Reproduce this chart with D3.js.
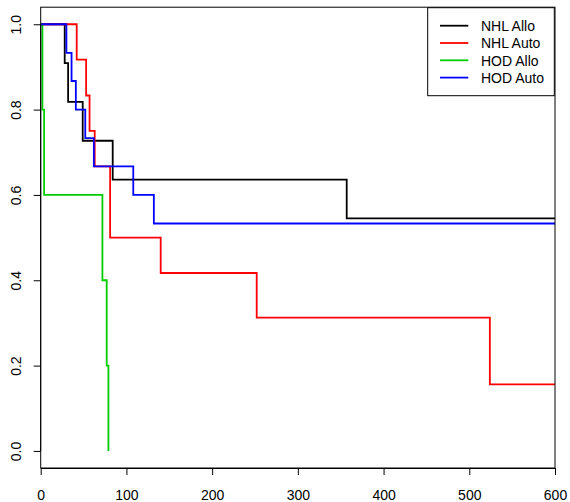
<!DOCTYPE html>
<html>
<head>
<meta charset="utf-8">
<script src="https://cdn.jsdelivr.net/npm/d3@7"></script>
<style>
  body { margin: 0; background: #fff; }
  svg { display: block; font-family: "Liberation Sans", Arial, sans-serif; }
</style>
</head>
<body>
<svg id="chart"></svg>
<script>
// Kaplan-Meier step curves: event times and survival after each step
const groups = ["NHL Allo", "NHL Auto", "HOD Allo", "HOD Auto"];
const colors = ["#000000", "#FF0000", "#00CD00", "#0000FF"];

const nhlAlloTimes = [0, 28, 32, 49, 84, 357, 600];
const nhlAlloSurv  = [1, 0.909, 0.818, 0.727, 0.636, 0.545, 0.545];

const nhlAutoTimes = [0, 42, 53, 57, 63, 81, 140, 252, 524, 600];
const nhlAutoSurv  = [1, 0.917, 0.833, 0.75, 0.667, 0.5, 0.417, 0.3125, 0.156, 0.156];

const hodAlloTimes = [0, 2, 4, 72, 77, 79];
const hodAlloSurv  = [1, 0.8, 0.6, 0.4, 0.2, 0];

const hodAutoTimes = [0, 30, 36, 41, 52, 62, 108, 132, 600];
const hodAutoSurv  = [1, 0.933, 0.867, 0.8, 0.733, 0.667, 0.6, 0.533, 0.533];

const xTicks = [0, 100, 200, 300, 400, 500, 600];
const yTicks = [0, 0.2, 0.4, 0.6, 0.8, 1.0];

function drawChart() {
    const width = 570;
    const height = 502;
    const margin = { top: 7.2, right: 15, bottom: 34, left: 40.7 };

    const svg = d3.select('#chart')
        .attr('width', width)
        .attr('height', height);

    const x = d3.scaleLinear()
        .domain([0, 600])
        .range([margin.left, width - margin.right]);

    // R's default 4% padding on the y range
    const y = d3.scaleLinear()
        .domain([-0.04, 1.04])
        .range([height - margin.bottom, margin.top]);

    svg.append('clipPath')
        .attr('id', 'plot-clip')
        .append('rect')
        .attr('x', x(0))
        .attr('y', y(1.04))
        .attr('width', x(600) - x(0))
        .attr('height', y(-0.04) - y(1.04));

    const series = [
        { times: nhlAlloTimes, surv: nhlAlloSurv },
        { times: nhlAutoTimes, surv: nhlAutoSurv },
        { times: hodAlloTimes, surv: hodAlloSurv },
        { times: hodAutoTimes, surv: hodAutoSurv }
    ];

    const line = d3.line()
        .x((d) => x(d[0]))
        .y((d) => y(d[1]))
        .curve(d3.curveStepAfter);

    svg.append('g')
        .attr('clip-path', 'url(#plot-clip)')
        .selectAll('path')
        .data(series)
        .enter()
        .append('path')
        .attr('d', (s) => line(s.times.map((t, i) => [t, s.surv[i]])))
        .attr('fill', 'none')
        .attr('stroke', (s, i) => colors[i])
        .attr('stroke-width', 1.8);

    // axes
    const xAxis = svg.append('g')
        .attr('transform', `translate(0, ${y(-0.04)})`)
        .call(d3.axisBottom(x).tickValues(xTicks).tickSize(7).tickSizeOuter(0));
    xAxis.selectAll('text')
        .attr('y', 31.5)
        .attr('dy', 0)
        .style('font-size', '14px')
        .style('fill', '#000');

    const yAxis = svg.append('g')
        .attr('transform', `translate(${x(0)}, 0)`)
        .call(d3.axisLeft(y).tickValues(yTicks).tickFormat(d3.format('.1f')).tickSize(7).tickSizeOuter(0));
    yAxis.select('.domain')
        .attr('d', `M0,${y(0)}V${y(1)}`);
    yAxis.selectAll('text')
        .attr('transform', 'rotate(-90)')
        .attr('x', 0)
        .attr('y', -19.7)
        .attr('dy', 0)
        .attr('text-anchor', 'middle')
        .style('font-size', '14px')
        .style('fill', '#000');

    svg.selectAll('.tick line').attr('stroke', '#000');

    // plot box
    svg.append('rect')
        .attr('x', x(0))
        .attr('y', y(1.04))
        .attr('width', x(600) - x(0))
        .attr('height', y(-0.04) - y(1.04))
        .attr('fill', 'none')
        .attr('stroke', '#000')
        .attr('stroke-width', 1);

    // legend
    const legend = svg.append('g')
        .attr('transform', 'translate(427.7, 7.7)');

    legend.append('rect')
        .attr('width', 126.6)
        .attr('height', 88)
        .attr('fill', '#fff')
        .attr('stroke', '#000')
        .attr('stroke-width', 1);

    const item = legend.selectAll('g')
        .data(groups)
        .enter()
        .append('g')
        .attr('transform', (d, i) => `translate(0, ${18 + i * 17.3})`);

    item.append('line')
        .attr('x1', 12.3)
        .attr('x2', 40.6)
        .attr('stroke', (d, i) => colors[i])
        .attr('stroke-width', 1.8);

    item.append('text')
        .attr('x', 53.3)
        .attr('y', 5.3)
        .style('font-size', '14px')
        .text((d) => d);
}

drawChart();
</script>
</body>
</html>
